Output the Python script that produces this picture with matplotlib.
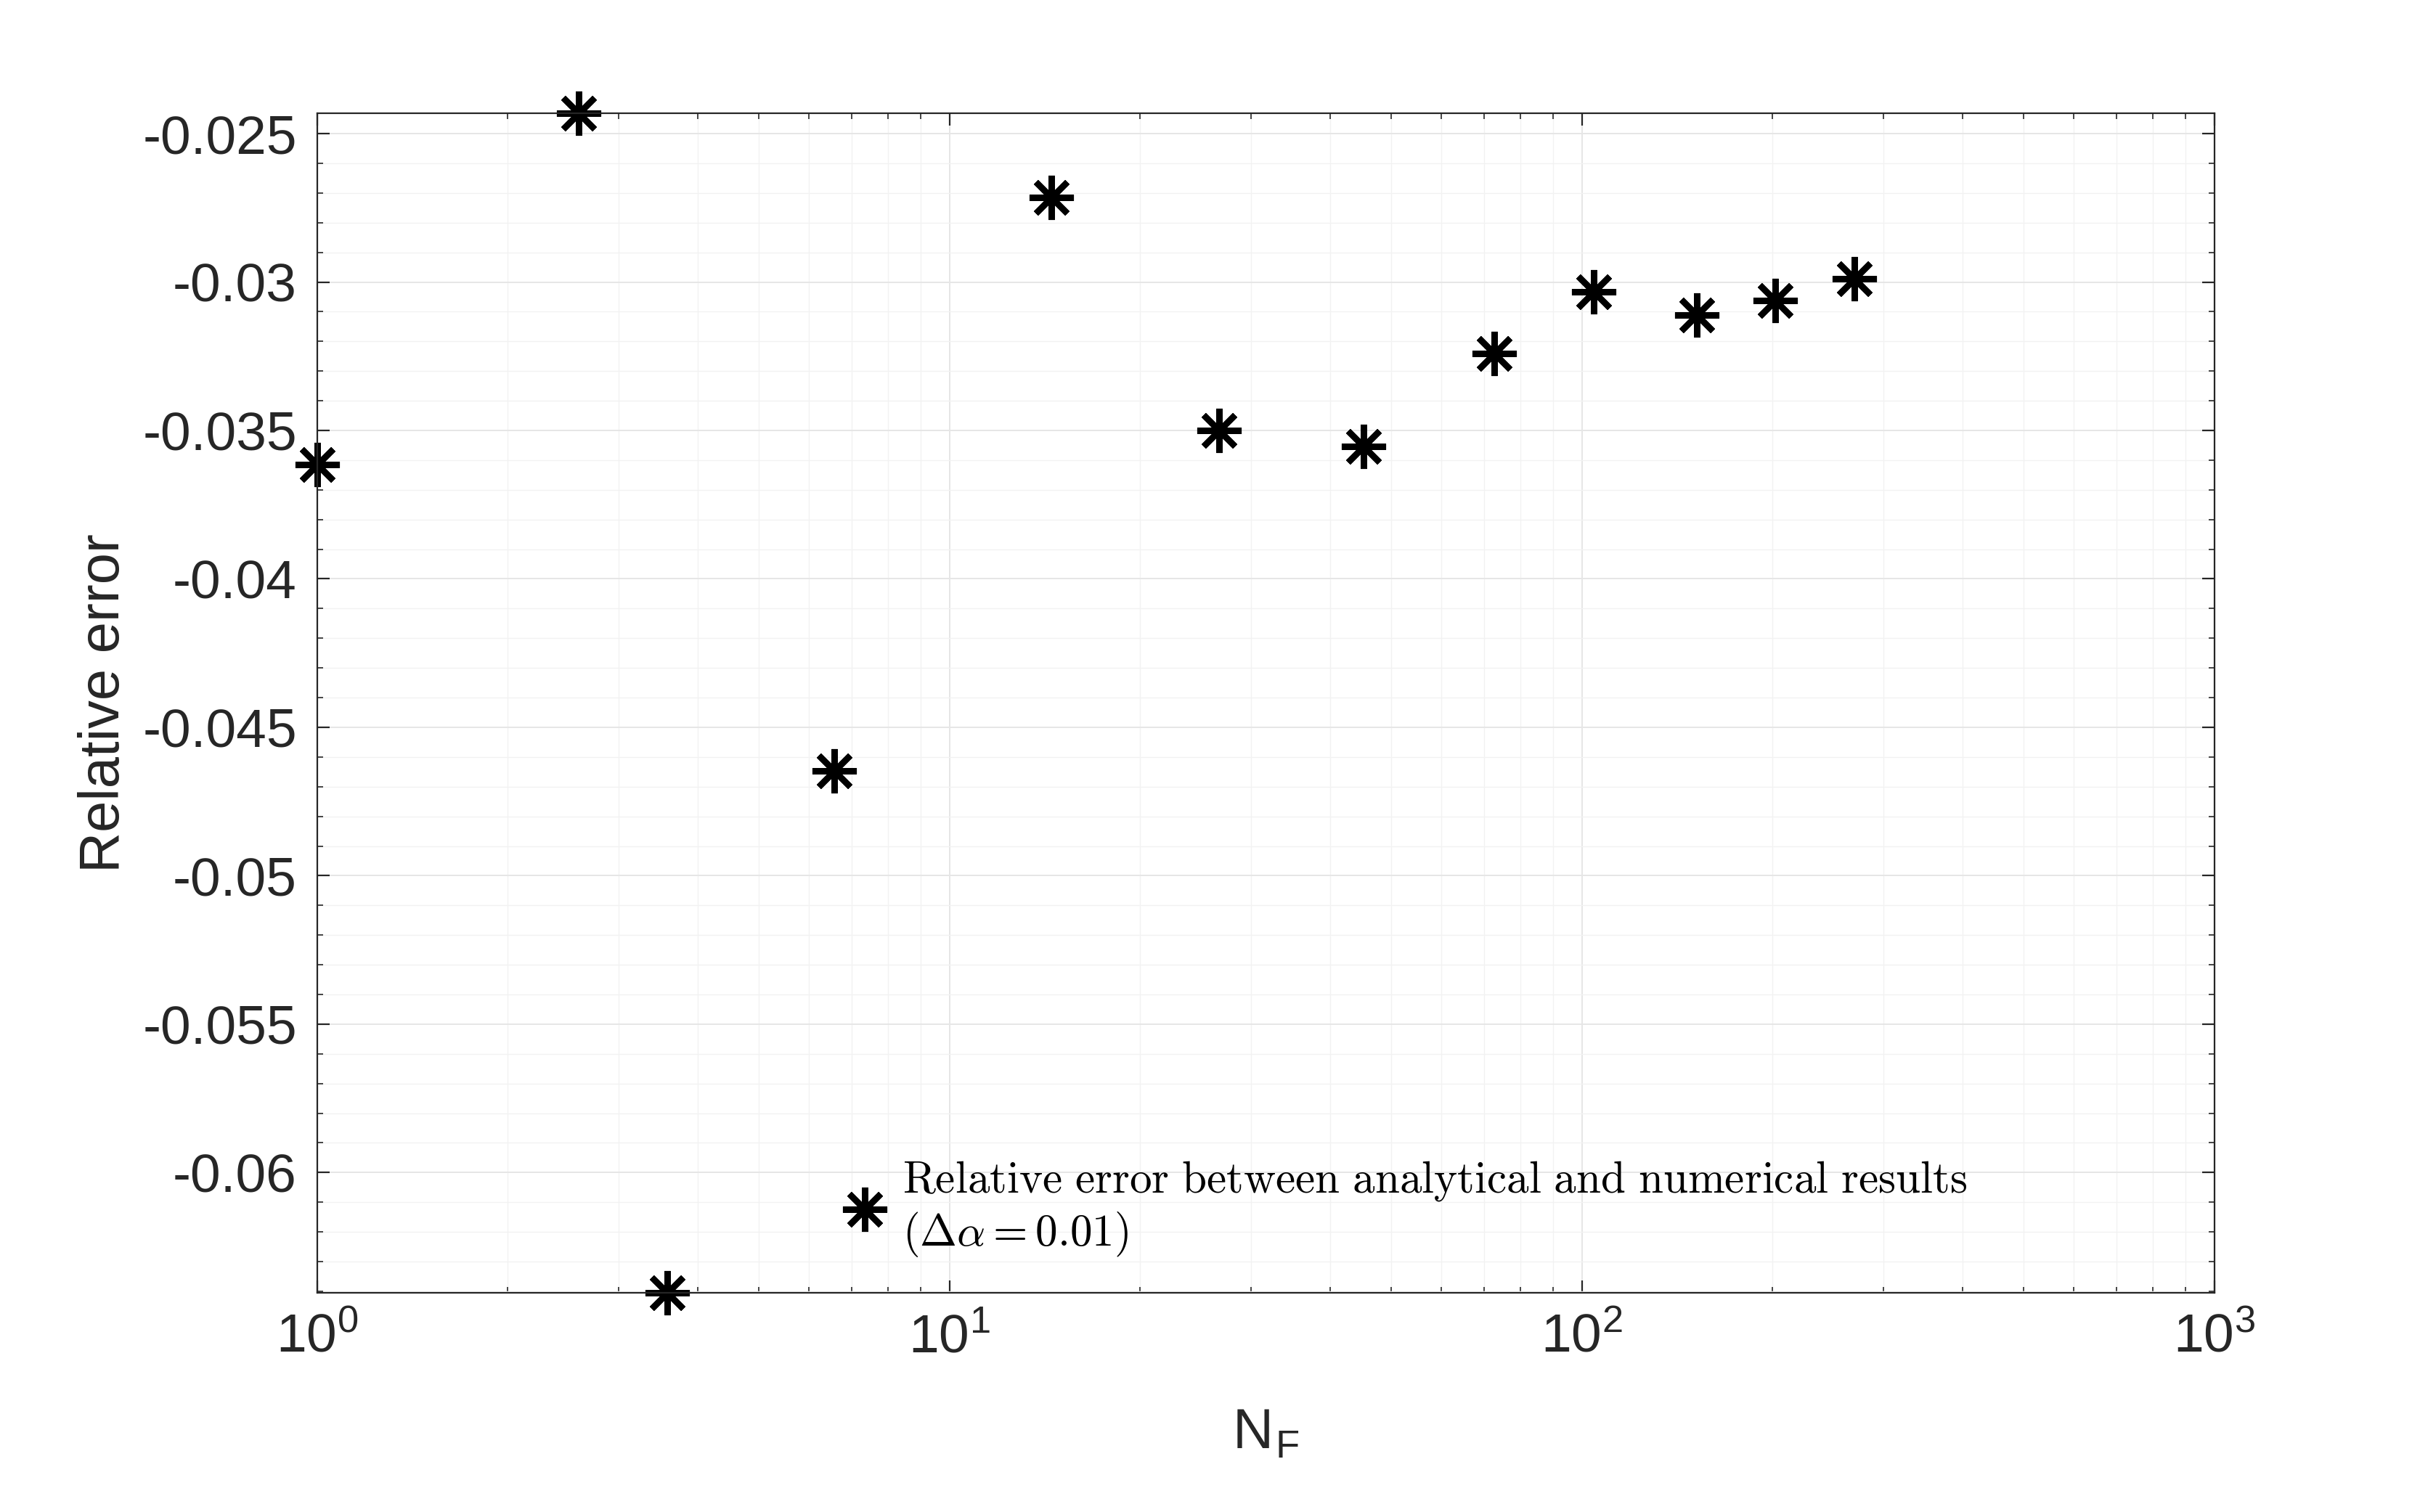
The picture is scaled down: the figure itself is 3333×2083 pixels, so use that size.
import matplotlib
matplotlib.use("Agg")
import matplotlib.pyplot as plt
from matplotlib.ticker import MultipleLocator

nf = [1.0, 2.59, 3.58, 6.58, 14.5, 26.7, 45.2, 72.6, 104.4, 152, 202, 270]
err = [-0.03616, -0.02432, -0.06405, -0.04647, -0.02716, -0.0350, -0.03553,
       -0.03242, -0.03032, -0.03111, -0.03063, -0.0299]
yticks = [-0.06, -0.055, -0.05, -0.045, -0.04, -0.035, -0.03, -0.025]
ylabels = ["-0.06", "-0.055", "-0.05", "-0.045", "-0.04", "-0.035", "-0.03", "-0.025"]

plt.rcParams['font.family'] = ['Liberation Sans', 'DejaVu Sans']
plt.rcParams['mathtext.fontset'] = 'cm'

fig = plt.figure(figsize=(16.665, 10.415), dpi=200)
ax = fig.add_axes([0.131, 0.145, 0.784, 0.78])
ax.plot(nf, err, linestyle='none', marker=(8, 2, 0), markersize=22, mew=3, color='black',
        clip_on=False,
        label="$\\mathrm{Relative\\ error\\ between\\ analytical\\ and\\ numerical\\ results}$\n$(\\Delta\\alpha=0.01)$")
ax.set_xscale('log')
ax.set_xlim(1, 1000)
ax.set_ylim(-0.06405, -0.02432)
ax.set_yticks(yticks)
ax.set_yticklabels(ylabels)
ax.tick_params(which='both', direction='in', top=True, right=True, labelsize=27, colors='#262626', length=6, pad=10)
ax.tick_params(which='minor', length=3)
ax.grid(True, which='major', color='#e6e6e6', linewidth=0.7)
ax.grid(True, which='minor', color='#f2f2f2', linewidth=0.5)
ax.yaxis.set_minor_locator(MultipleLocator(0.001))
for s in ax.spines.values():
    s.set_color('#262626'); s.set_linewidth(0.8)
ax.set_xlabel('N$_\\mathregular{F}$', fontsize=28, color='#262626', labelpad=22)
ax.set_ylabel('Relative error', fontsize=28, color='#262626', labelpad=6)
ax.legend(loc='lower left', bbox_to_anchor=(0.25, -0.005), frameon=False, fontsize=22,
          handletextpad=0.1, handlelength=1.5, labelspacing=0.2)
fig.savefig('out.png', dpi=200)
